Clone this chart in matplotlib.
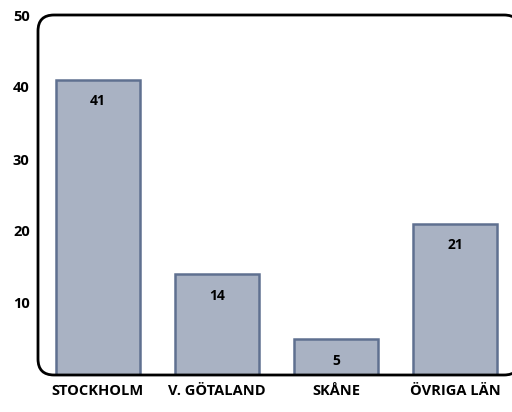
import matplotlib.pyplot as plt
from matplotlib.patches import FancyBboxPatch

regions = ['STOCKHOLM', 'V. GÖTALAND', 'SKÅNE', 'ÖVRIGA LÄN']
counts = [41, 14, 5, 21]
yticks = [10, 20, 30, 40, 50]

W, H = 512, 412
fig = plt.figure(figsize=(W / 100, H / 100), dpi=100)
ax = fig.add_axes([38 / W, 37 / H, 474 / W, 360 / H])

bars = ax.bar(range(len(regions)), counts, width=0.71,
              color='#a9b2c3', edgecolor='#5f7090', linewidth=1.8, zorder=2)

# value labels just inside the top of each bar
for b, v in zip(bars, counts):
    ax.annotate(str(v), (b.get_x() + b.get_width() / 2, v),
                xytext=(0, -15.5), textcoords='offset points',
                ha='center', va='center', fontsize=10, fontweight='bold',
                family='Open Sans')

ax.set_xlim(-0.504, -0.504 + 474 / 119)
ax.set_ylim(0, 50)
ax.set_yticks(yticks)
ax.set_yticklabels([str(t) for t in yticks], fontsize=10.5, fontweight='bold',
                   family='Open Sans')
ax.set_xticks(range(len(regions)))
ax.set_xticklabels(regions, fontsize=10.5, fontweight='bold', family='Open Sans')
ax.tick_params(length=0)
ax.tick_params(axis='x', pad=6.5)
ax.tick_params(axis='y', pad=6)

for s in ax.spines.values():
    s.set_visible(False)

# rounded plot frame, running past the right edge of the image
# (near-invisible face so agg doesn't clip the stroke onto the image edge)
fx0, fy0, fw, fh, r = 38, 37, 482, 360, 16
frame = FancyBboxPatch((fx0 / W, fy0 / H), fw / W, fh / H,
                       boxstyle='round,pad=0,rounding_size=%f' % (r / W),
                       mutation_aspect=W / H,
                       transform=fig.transFigure,
                       facecolor=(1, 1, 1, 0.005),
                       edgecolor='black', linewidth=2, zorder=3)
fig.patches.append(frame)

fig.savefig('out.png', dpi=100)
